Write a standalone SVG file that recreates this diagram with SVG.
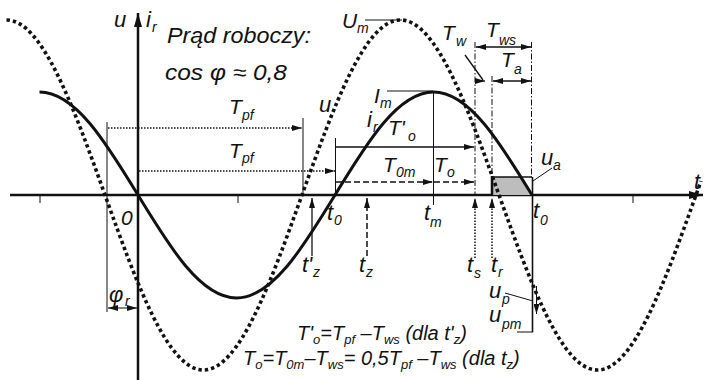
<svg xmlns="http://www.w3.org/2000/svg" width="704" height="380" viewBox="0 0 704 380">
<defs>
<style>
text{font-family:"Liberation Sans",Arial,sans-serif;font-style:italic;fill:#111}
.l{font-size:21px}
.u{font-size:22px}
.s{font-size:14px}
.f{font-size:20px}
.fs{font-size:13px}
.thin{stroke:#111;stroke-width:1;fill:none}
.dot{stroke:#111;stroke-width:1.5;stroke-dasharray:1.5 1.5;fill:none}
.dash{stroke:#111;stroke-width:1.5;stroke-dasharray:6 3;fill:none}
.dd{stroke:#111;stroke-width:1;stroke-dasharray:6 2 1.5 2;fill:none}
.sol{stroke:#111;stroke-width:1.3;fill:none}
</style>
<marker id="ah" viewBox="0 0 10 6" refX="10" refY="3" markerWidth="10" markerHeight="6" orient="auto-start-reverse" markerUnits="userSpaceOnUse"><path d="M0,0 L10,3 L0,6 z" fill="#111"/></marker>
<marker id="ax" viewBox="0 0 14 8" refX="14" refY="4" markerWidth="14" markerHeight="8" orient="auto" markerUnits="userSpaceOnUse"><path d="M0,0 L14,4 L0,8 z" fill="#111"/></marker>
</defs>

<g id="axes">
<line x1="10" y1="195" x2="703" y2="195" stroke="#111" stroke-width="2.5" marker-end="url(#ax)"/>
<line x1="138" y1="380" x2="138" y2="13" stroke="#111" stroke-width="2.5" marker-end="url(#ax)"/>
<line class="thin" x1="40" y1="196" x2="40" y2="203"/>
<line class="thin" x1="238" y1="196" x2="238" y2="203"/>
<line class="thin" x1="633" y1="196" x2="633" y2="203"/>
</g>

<g id="shade">
<path d="M492,177 L521,177 Q527,185 532,195 L492,195 Z" fill="#bdbdbd"/>
<line x1="492" y1="177" x2="532" y2="177" class="sol"/>
<line x1="492" y1="176" x2="492" y2="196" stroke="#111" stroke-width="2.5"/>
</g>

<g id="curves">
<path id="voltage" d="M6.5,20 C42.15,20 72.88,105.35 105,195 C137.12,284.65 167.85,370 203.5,370 C239.15,370 269.88,284.65 302,195 C334.12,105.35 364.85,20 400.5,20 C436.15,20 466.88,105.35 499,195 C531.12,284.65 561.85,370 597.5,370 C633.15,370 663.88,284.65 696,195 L701,181" fill="none" stroke="#111" stroke-width="3.6" stroke-dasharray="3.4 3"/>
<path id="current" d="M39.5,92 C75.15,92 105.88,142.23 138,195 C170.12,247.77 200.85,298 236.5,298 C272.15,298 302.88,247.77 335,195 C367.12,142.23 397.85,92 433.5,92 C469.15,92 499.88,142.23 532,195" fill="none" stroke="#111" stroke-width="3"/>
</g>

<g id="connectors">
<line class="thin" x1="107" y1="122" x2="107" y2="312"/>
<line class="thin" x1="108" y1="308" x2="137" y2="308" marker-start="url(#ah)" marker-end="url(#ah)"/>
<line class="dot" x1="108" y1="128" x2="302" y2="128" marker-end="url(#ah)"/>
<line class="thin" x1="303" y1="118" x2="303" y2="195"/>
<line class="dot" x1="139" y1="171" x2="335" y2="171" marker-end="url(#ah)"/>
<line class="thin" x1="335.5" y1="138" x2="335.5" y2="195"/>
<line class="sol" x1="336" y1="147" x2="474" y2="147" marker-end="url(#ah)"/>
<line class="dash" x1="336" y1="182" x2="433" y2="182" marker-end="url(#ah)"/>
<line class="dash" x1="434" y1="182" x2="474" y2="182" marker-end="url(#ah)"/>
<line class="thin" x1="433.5" y1="91" x2="433.5" y2="205"/>
<line class="thin" x1="387" y1="91" x2="433" y2="91"/>
<line class="thin" x1="365" y1="20" x2="402" y2="20"/>
<line class="dd" x1="475" y1="42" x2="475" y2="195"/>
<line class="dd" x1="492" y1="76" x2="492" y2="177"/>
<line class="dd" x1="531.5" y1="42" x2="531.5" y2="177"/>
<line class="sol" x1="476" y1="47" x2="531" y2="47" marker-start="url(#ah)" marker-end="url(#ah)"/>
<line class="sol" x1="493" y1="81" x2="531" y2="81" marker-start="url(#ah)" marker-end="url(#ah)"/>
<line class="sol" x1="475" y1="81" x2="485" y2="81" marker-end="url(#ah)"/>
<line class="sol" x1="465" y1="55" x2="483" y2="80"/>
<line class="thin" x1="552" y1="168" x2="533" y2="181"/>
<line x1="532.5" y1="177" x2="532.5" y2="332" stroke="#111" stroke-width="1.6"/>
<line class="thin" x1="517" y1="332" x2="533" y2="332"/>
<line class="thin" x1="536.5" y1="286" x2="536.5" y2="314" marker-end="url(#ah)"/>
<line class="thin" x1="505" y1="293" x2="533" y2="301"/>
<line class="sol" x1="312" y1="256" x2="312" y2="198" marker-end="url(#ah)"/>
<line class="dash" x1="367" y1="256" x2="367" y2="198" marker-end="url(#ah)"/>
<line class="dot" x1="475" y1="258" x2="475" y2="198" marker-end="url(#ah)"/>
<line class="dot" x1="492" y1="258" x2="492" y2="198" marker-end="url(#ah)"/>
</g>

<g id="labels">
<text class="u" x="114" y="27">u</text>
<text class="u" x="146" y="27">i</text><text class="s" x="152" y="32">r</text>
<text class="u" x="167" y="43" textLength="144" lengthAdjust="spacingAndGlyphs">Prąd roboczy:</text>
<text class="u" x="165" y="80" textLength="122" lengthAdjust="spacingAndGlyphs">cos φ ≈ 0,8</text>
<text class="l" x="342" y="28">U</text><text class="s" x="357" y="33">m</text>
<text class="l" x="229" y="114">T</text><text class="s" x="242" y="120">pf</text>
<text class="l" x="229" y="158">T</text><text class="s" x="242" y="163">pf</text>
<text class="u" x="319" y="112">u</text>
<text class="u" x="367" y="127">i</text><text class="s" x="373" y="132">r</text>
<text class="l" x="374" y="103">I</text><text class="s" x="380" y="108">m</text>
<text class="l" x="388" y="135">T'</text><text class="s" x="408" y="141">o</text>
<text class="l" x="383" y="172">T</text><text class="s" x="396" y="177">0m</text>
<text class="l" x="434" y="172">T</text><text class="s" x="447" y="177">o</text>
<text class="l" x="442" y="40">T</text><text class="s" x="456" y="46">w</text>
<text class="l" x="486" y="37">T</text><text class="s" x="499" y="45">ws</text>
<text class="l" x="501" y="67">T</text><text class="s" x="514" y="74">a</text>
<text class="u" x="541" y="165">u</text><text class="s" x="553" y="170">a</text>
<text class="u" x="694" y="189">t</text>
<text class="l" x="121" y="225">0</text>
<text class="u" x="327" y="220">t</text><text class="s" x="334" y="225">0</text>
<text class="u" x="424" y="220">t</text><text class="s" x="430" y="227">m</text>
<text class="u" x="533" y="218">t</text><text class="s" x="540" y="225">0</text>
<text class="u" x="302" y="272">t'</text><text class="s" x="313" y="277">z</text>
<text class="u" x="359" y="272">t</text><text class="s" x="366" y="277">z</text>
<text class="u" x="467" y="272">t</text><text class="s" x="474" y="278">s</text>
<text class="u" x="491" y="272">t</text><text class="s" x="498" y="277">r</text>
<text class="u" x="109" y="302">φ</text><text class="s" x="125" y="306">r</text>
<text class="u" x="489" y="298">u</text><text class="s" x="502" y="304">p</text>
<text class="u" x="489" y="322">u</text><text class="s" x="502" y="329">pm</text>
</g>

<g id="formulas">
<text class="f" x="297" y="340">T'<tspan class="fs" dy="4">o</tspan><tspan dy="-4">=T</tspan><tspan class="fs" dy="4">pf</tspan><tspan dy="-4"> –T</tspan><tspan class="fs" dy="4">ws</tspan><tspan dy="-4"> (dla t'</tspan><tspan class="fs" dy="4">z</tspan><tspan dy="-4">)</tspan></text>
<text class="f" x="243" y="365">T<tspan class="fs" dy="4">o</tspan><tspan dy="-4">=T</tspan><tspan class="fs" dy="4">0m</tspan><tspan dy="-4">–T</tspan><tspan class="fs" dy="4">ws</tspan><tspan dy="-4">= 0,5T</tspan><tspan class="fs" dy="4">pf</tspan><tspan dy="-4"> –T</tspan><tspan class="fs" dy="4">ws</tspan><tspan dy="-4"> (dla t</tspan><tspan class="fs" dy="4">z</tspan><tspan dy="-4">)</tspan></text>
</g>
</svg>
